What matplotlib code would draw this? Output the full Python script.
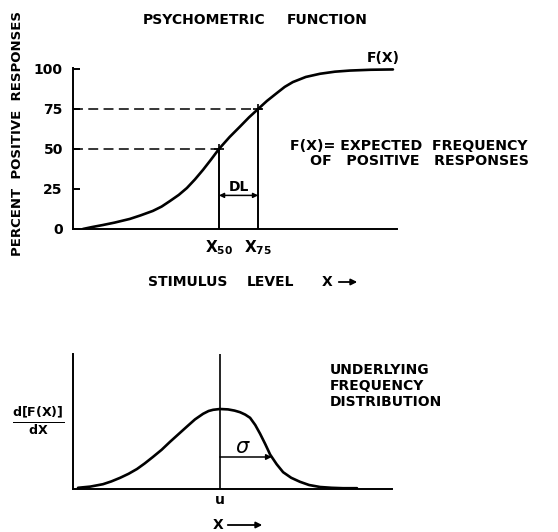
import matplotlib.pyplot as plt
from matplotlib.patches import FancyArrowPatch

# psychometric function (stimulus in arbitrary 0-100 units)
stim = [3.2, 6.0, 9.4, 13.0, 17.7, 21.0, 24.8, 27.5, 30.1, 32.8, 35.3, 37.8, 40.3,
        42.8, 45.2, 48.5, 51.7, 54.5, 57.3, 60.0, 63.1, 65.5, 68.0, 72.0, 76.4,
        81.0, 85.6, 92.0, 98.9]
pct = [0, 1.2, 2.5, 4.0, 6.3, 8.5, 11.3, 14.0, 17.5, 21.3, 25.6, 31.0, 37.0,
       43.5, 50.0, 57.5, 64.0, 69.8, 75.0, 80.0, 85.0, 88.8, 91.8, 95.0, 97.0,
       98.3, 99.0, 99.5, 99.7]
x50, x75 = 45.2, 57.3
yticks = [0, 25, 50, 75, 100]
dl_level = 21

# underlying frequency distribution (peak scaled to 1)
dens_x = [1.7, 5.5, 9.4, 12.0, 14.7, 17.3, 19.9, 22.3, 24.8, 27.5, 30.1, 32.7,
          35.3, 37.8, 40.3, 42.0, 43.4, 45.5, 48.0, 50.0, 51.7, 53.3, 54.8, 56.4,
          57.9, 59.5, 61.0, 63.0, 65.0, 67.5, 70.2, 73.0, 76.4, 80.0, 83.5, 87.8]
dens_y = [0.015, 0.03, 0.06, 0.095, 0.14, 0.19, 0.25, 0.32, 0.40, 0.49, 0.59, 0.685,
          0.78, 0.87, 0.94, 0.975, 0.99, 1.0, 0.995, 0.98, 0.96, 0.93, 0.89, 0.80,
          0.69, 0.56, 0.43, 0.31, 0.21, 0.14, 0.09, 0.05, 0.025, 0.015, 0.01, 0.01]
mu = 45.5
sigma_end = 61.5
sigma_level = 0.40

plt.rcParams['font.family'] = ['DejaVu Sans']
plt.rcParams['font.weight'] = 'bold'
plt.rcParams['mathtext.fontset'] = 'dejavusans'

W, H = 558, 532
FS = 10
fig = plt.figure(figsize=(W / 100, H / 100), dpi=100)


def box(left, right, bottom, top):
    # pixel box (from top-left) -> figure fraction
    return [left / W, 1 - bottom / H, (right - left) / W, (bottom - top) / H]


def label(x, y, s, **kw):
    kw.setdefault('fontsize', FS)
    kw.setdefault('va', 'center')
    kw.setdefault('ha', 'left')
    fig.text(x / W, 1 - y / H, s, **kw)


def arrow(x0, x1, y):
    fig.add_artist(FancyArrowPatch((x0 / W, 1 - y / H), (x1 / W, 1 - y / H),
                                   transform=fig.transFigure, arrowstyle='-|>',
                                   mutation_scale=9, lw=1.3, color='k'))


# ---- top panel
ax1 = fig.add_axes(box(72.5, 396.5, 229, 68))
ax1.set_xlim(0, 100)
ax1.set_ylim(0, 100.6)
for s in ['top', 'right']:
    ax1.spines[s].set_visible(False)
for s in ['left', 'bottom']:
    ax1.spines[s].set_linewidth(1.4)

ax1.plot(stim, pct, color='k', lw=1.9, solid_capstyle='round')
ax1.vlines([x50, x75], 0, [50, 75], color='k', lw=1.4)
ax1.hlines([50, 75], 0, [x50 + 1.2, x75 + 1.2], color='k', lw=1.1, linestyles=(0, (6.5, 3.5)))
ax1.plot([x50, x75], [50, 75], '+', color='k', ms=7, mew=1.2)
ax1.annotate('', xy=(x50, dl_level), xytext=(x75, dl_level),
             arrowprops=dict(arrowstyle='<|-|>', color='k', lw=1.1,
                             shrinkA=0, shrinkB=0, mutation_scale=7))
ax1.text((x50 + x75) / 2, 26, 'DL', ha='center', va='center', fontsize=FS)
ax1.text(95.8, 107, 'F(X)', ha='center', va='center', fontsize=FS, clip_on=False)

ax1.set_yticks(yticks)
ax1.tick_params(axis='y', direction='in', length=5, width=1.4, pad=7, labelsize=FS)
ax1.set_xticks([x50, x75])
ax1.set_xticklabels([r'X$_{\mathbf{50}}$', r'X$_{\mathbf{75}}$'])
ax1.tick_params(axis='x', length=0, pad=7, labelsize=FS + 1)

label(18, 133, 'PERCENT  POSITIVE  RESPONSES', rotation=90, ha='center', fontsize=9.5)
label(143, 20, 'PSYCHOMETRIC')
label(287, 20, 'FUNCTION')
label(290, 146, 'F(X)= EXPECTED  FREQUENCY', fontsize=10.2)
label(310, 161, 'OF   POSITIVE   RESPONSES', fontsize=10.2)
label(148, 282, 'STIMULUS')
label(247, 282, 'LEVEL')
label(322, 282, 'X')
arrow(336, 360, 282)

# ---- bottom panel
ax2 = fig.add_axes(box(72.5, 392, 489, 354))
ax2.set_xlim(0, 98.6)
ax2.set_ylim(0, 1.6875)
for s in ['top', 'right']:
    ax2.spines[s].set_visible(False)
for s in ['left', 'bottom']:
    ax2.spines[s].set_linewidth(1.4)

ax2.plot(dens_x, dens_y, color='k', lw=1.9, solid_capstyle='round')
ax2.axvline(mu, color='k', lw=1.2)
ax2.annotate('', xy=(sigma_end, sigma_level), xytext=(mu, sigma_level),
             arrowprops=dict(arrowstyle='-|>', color='k', lw=1.1,
                             shrinkA=0, shrinkB=0, mutation_scale=8))
ax2.text(52.4, 0.52, 'σ', ha='center', va='center', fontsize=15,
         fontstyle='italic', fontweight='normal')
ax2.set_yticks([])
ax2.set_xticks([mu])
ax2.set_xticklabels(['u'])
ax2.tick_params(axis='x', length=0, pad=3, labelsize=FS)

label(38, 421, r'$\frac{\mathbf{d[F(X)]}}{\mathbf{dX}}$', ha='center', fontsize=13)
for i, line in enumerate(['UNDERLYING', 'FREQUENCY', 'DISTRIBUTION']):
    label(330, 370 + 16 * i, line)
label(218, 525, 'X', ha='center')
arrow(225, 265, 525)

fig.savefig('out.png', dpi=100)
